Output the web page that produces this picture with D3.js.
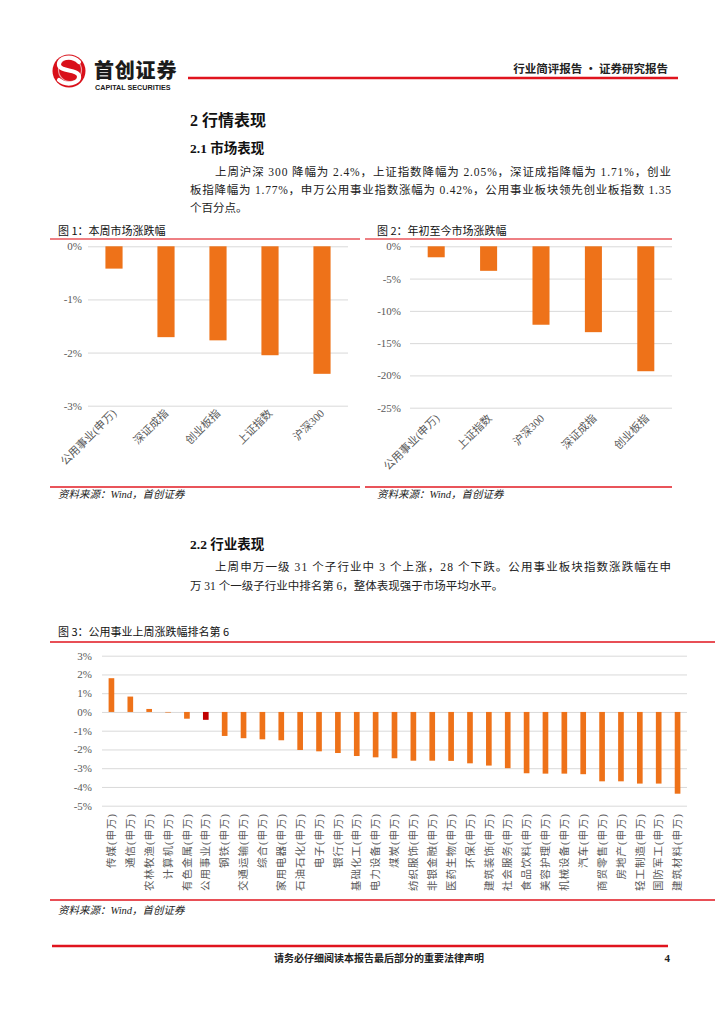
<!DOCTYPE html>
<html><head><meta charset="utf-8">
<script src="https://cdn.jsdelivr.net/npm/d3@7"></script>
<style>
html,body{margin:0;padding:0;background:#fff;}
svg{display:block;}
</style></head>
<body>
<script>
// ---------- DATA ----------
const chart1Cats = ["公用事业(申万)","深证成指","创业板指","上证指数","沪深300"];
const chart1Vals = [-0.42,-1.71,-1.77,-2.05,-2.40];
const chart1Ticks = [0,-1,-2,-3];

const chart2Cats = ["公用事业(申万)","上证指数","沪深300","深证成指","创业板指"];
const chart2Vals = [-1.7,-3.8,-12.15,-13.3,-19.35];
const chart2Ticks = [0,-5,-10,-15,-20,-25];

const chart3Cats = ["传媒(申万)","通信(申万)","农林牧渔(申万)","计算机(申万)","有色金属(申万)","公用事业(申万)",
 "钢铁(申万)","交通运输(申万)","综合(申万)","家用电器(申万)","石油石化(申万)","电子(申万)","银行(申万)",
 "基础化工(申万)","电力设备(申万)","煤炭(申万)","纺织服饰(申万)","非银金融(申万)","医药生物(申万)","环保(申万)",
 "建筑装饰(申万)","社会服务(申万)","食品饮料(申万)","美容护理(申万)","机械设备(申万)","汽车(申万)",
 "商贸零售(申万)","房地产(申万)","轻工制造(申万)","国防军工(申万)","建筑材料(申万)"];
const chart3Vals = [1.80,0.82,0.16,-0.03,-0.36,-0.42,-1.28,-1.40,-1.46,-1.51,-2.03,-2.10,-2.19,-2.35,-2.42,
 -2.47,-2.60,-2.60,-2.61,-2.74,-2.86,-3.00,-3.27,-3.29,-3.29,-3.32,-3.70,-3.70,-3.82,-3.82,-4.36];
const chart3Ticks = [3,2,1,0,-1,-2,-3,-4,-5];
const highlightCat = "公用事业(申万)";

// ---------- STYLE ----------
const ORANGE = "#EE7219", DARKRED = "#C00000", GRID = "#D9D9D9", AXIS_TXT = "#595959";
const RED = "#E0141E", PINK = "#E9545A";
const SERIF = "'Liberation Serif','Noto Sans CJK SC',serif";
const SANS = "'Noto Sans CJK SC','Liberation Sans',sans-serif";

const svg = d3.select("body").append("svg").attr("width",724).attr("height",1024);
svg.append("rect").attr("width",724).attr("height",1024).attr("fill","#fff");

// ---------- HEADER ----------
const logo = svg.append("g");
logo.append("circle").attr("cx",69).attr("cy",71).attr("r",16.5).attr("fill","#D9101A");
logo.append("circle").attr("cx",70).attr("cy",70).attr("r",11.5).attr("fill","none").attr("stroke","#fff").attr("stroke-width",1.2).attr("opacity",0.6);
logo.append("path").attr("d","M79,62 C72,55 58,57 59,65 C60,72 78,69 79,76 C80,84 66,86 59,80")
  .attr("fill","none").attr("stroke","#fff").attr("stroke-width",4.2).attr("stroke-linecap","round");
svg.append("text").attr("x",94).attr("y",78).text("首创证券")
  .attr("font-family",SANS).attr("font-weight",900).attr("font-size",20).attr("fill","#1b1b1b").attr("letter-spacing",0.8);
svg.append("text").attr("x",95).attr("y",90).text("CAPITAL SECURITIES")
  .attr("font-family","'Liberation Sans',sans-serif").attr("font-weight",700).attr("font-size",7.2).attr("fill","#1b1b1b");
svg.append("line").attr("x1",188).attr("x2",678).attr("y1",78).attr("y2",78).attr("stroke",RED).attr("stroke-width",2.4);
svg.append("text").attr("x",668).attr("y",73).attr("text-anchor","end").text("行业简评报告 · 证券研究报告")
  .attr("font-family",SANS).attr("font-weight",700).attr("font-size",11.5).attr("fill","#222");

// ---------- SECTION TEXT ----------
function heading(x,y,t,size){
  svg.append("text").attr("x",x).attr("y",y).text(t).attr("font-family",SERIF)
    .attr("font-weight",700).attr("font-size",size).attr("fill","#111");
}
function para(x,y,t,len){
  const el = svg.append("text").attr("x",x).attr("y",y).text(t).attr("font-family",SERIF)
    .attr("font-size",11.5).attr("fill","#222");
  if(len) el.attr("textLength",len).attr("lengthAdjust","spacing");
}
heading(190,126,"2  行情表现",16);
heading(190,153,"2.1  市场表现",13.5);
para(215,176,"上周沪深 300 降幅为 2.4%，上证指数降幅为 2.05%，深证成指降幅为 1.71%，创业",456);
para(190,194,"板指降幅为 1.77%，申万公用事业指数涨幅为 0.42%，公用事业板块领先创业板指数 1.35",481);
para(190,212,"个百分点。");

heading(190,549,"2.2  行业表现",13.5);
para(215,571,"上周申万一级 31 个子行业中 3 个上涨，28 个下跌。公用事业板块指数涨跌幅在申",456);
para(190,590,"万 31 个一级子行业中排名第 6，整体表现强于市场平均水平。");

// ---------- FIGURE HELPERS ----------
function figTitle(x,y,t){
  svg.append("text").attr("x",x).attr("y",y).text(t).attr("font-family",SANS)
    .attr("font-size",11).attr("fill","#111");
}
function source(x,y){
  svg.append("text").attr("x",x).attr("y",y).text("资料来源：Wind，首创证券").attr("font-family",SERIF)
    .attr("font-style","italic").attr("font-size",10.5).attr("fill","#222");
}
function hline(x1,x2,y,c,w){
  svg.append("line").attr("x1",x1).attr("x2",x2).attr("y1",y).attr("y2",y).attr("stroke",c).attr("stroke-width",w);
}
function drawChart(o){
  const g = svg.append("g");
  const y = d3.scaleLinear().domain(o.yDomain).range(o.yRange);
  const x = d3.scaleBand().domain(o.cats).range(o.xRange).paddingInner(o.pad).paddingOuter(o.pad/2);
  const ax = d3.axisLeft(y).tickValues(o.ticks).tickSize(-(o.xRange[1]-o.xRange[0]))
    .tickPadding(o.tickPad).tickFormat(d => d + "%");
  const ag = g.append("g").attr("transform",`translate(${o.xRange[0]},0)`).call(ax);
  ag.select(".domain").remove();
  ag.selectAll(".tick line").attr("stroke",GRID).attr("stroke-width",1);
  ag.selectAll(".tick text").attr("font-family",SERIF).attr("font-size",o.tickFont).attr("fill",AXIS_TXT);
  g.selectAll("rect.bar").data(o.cats).enter().append("rect").attr("class","bar")
    .attr("x",d=>x(d)).attr("width",x.bandwidth())
    .attr("y",(d,i)=>Math.min(y(0),y(o.vals[i])))
    .attr("height",(d,i)=>Math.abs(y(o.vals[i])-y(0)))
    .attr("fill",d=> d===o.hl ? DARKRED : ORANGE);
  const lab = g.selectAll("text.lab").data(o.cats).enter().append("text").attr("class","lab")
    .text(d=>d).attr("font-family",SERIF).attr("font-size",o.labFont).attr("fill",AXIS_TXT)
    .attr("text-anchor","end").attr("letter-spacing",o.ls||0);
  if(o.rot===-45){
    lab.attr("transform",d=>`translate(${x(d)+x.bandwidth()/2+o.labDx},${o.labY}) rotate(-45)`);
  } else {
    lab.attr("dy","0.35em").attr("transform",d=>`translate(${x(d)+x.bandwidth()/2},${o.labY}) rotate(-90)`);
  }
}

// ---------- FIGURE 1 ----------
figTitle(58,235,"图 1：本周市场涨跌幅");
hline(50,360,239,PINK,1.3);
drawChart({cats:chart1Cats,vals:chart1Vals,ticks:chart1Ticks,yDomain:[0,-3],yRange:[246.3,405.7],
  xRange:[88,348],pad:0.67,tickPad:6,tickFont:11,labFont:11,labY:414,labDx:3,rot:-45});
hline(50,360,487,PINK,2);
source(58,498);

// ---------- FIGURE 2 ----------
figTitle(377,235,"图 2：年初至今市场涨跌幅");
hline(365,672,239,PINK,1.3);
drawChart({cats:chart2Cats,vals:chart2Vals,ticks:chart2Ticks,yDomain:[0,-25],yRange:[246.3,407.7],
  xRange:[410,672],pad:0.675,tickPad:9,tickFont:11,labFont:11,labY:419,labDx:4,rot:-45});
hline(365,672,487,PINK,2);
source(377,498);

// ---------- FIGURE 3 ----------
figTitle(58,636,"图 3：公用事业上周涨跌幅排名第 6");
hline(50,715,642,RED,1.5);
drawChart({cats:chart3Cats,vals:chart3Vals,ticks:chart3Ticks,yDomain:[3,-5],yRange:[655.7,805.7],
  xRange:[102,687],pad:0.70,tickPad:10,tickFont:11,labFont:10.5,labY:813,rot:-90,hl:highlightCat,ls:1});
hline(50,715,900,RED,1.5);
source(58,914);

// ---------- FOOTER ----------
hline(52,668,946,RED,2.6);
svg.append("text").attr("x",379).attr("y",962).attr("text-anchor","middle").text("请务必仔细阅读本报告最后部分的重要法律声明")
  .attr("font-family",SANS).attr("font-weight",700).attr("font-size",10).attr("fill","#222");
svg.append("text").attr("x",670).attr("y",962).attr("text-anchor","end").text("4")
  .attr("font-family",SERIF).attr("font-weight",700).attr("font-size",11).attr("fill","#222");
</script>
</body></html>
